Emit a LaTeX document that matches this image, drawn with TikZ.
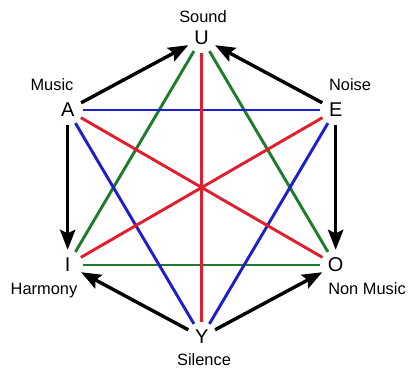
\documentclass[tikz,border=0pt]{standalone}
\usepackage{fontspec}
\setmainfont{Liberation Sans}
\usetikzlibrary{arrows.meta}
\definecolor{chordred}{RGB}{225,30,45}
\definecolor{chordblue}{RGB}{30,30,205}
\definecolor{chordgreen}{RGB}{30,125,45}

\begin{document}
\begin{tikzpicture}[
    vowel/.style={circle, inner sep=0pt, minimum size=0.9cm, font=\fontsize{17}{19}\selectfont},
    caption/.style={anchor=base, font=\fontsize{14}{16}\selectfont},
    chord/.style={line width=2.5pt},
    flow/.style={line width=2.9pt, -{Stealth[length=17pt, width=13pt, inset=3pt]}}
  ]
        \useasboundingbox (0,0) rectangle (12.3, 11.1);
        % the six vowels
        \node[vowel] (U) at (6.05, 9.96) {U};
        \node[vowel] (A) at (2.03, 7.80) {A};
        \node[vowel] (E) at (10.07, 7.80) {E};
        \node[vowel] (I) at (2.03, 3.15) {I};
        \node[vowel] (O) at (10.07, 3.15) {O};
        \node[vowel] (Y) at (6.05, 0.99) {Y};
        % their meanings
        \node[caption] (sound) at (6.09, 10.44) {Sound};
        \node[caption] (music) at (1.56, 8.40) {Music};
        \node[caption] (noise) at (10.50, 8.40) {Noise};
        \node[caption] (harmony) at (1.32, 2.28) {Harmony};
        \node[caption] (nonmusic) at (11.01, 2.28) {Non Music};
        \node[caption] (silence) at (6.12, 0.15) {Silence};
        % the star inside
        \draw[chord, chordgreen] (U) -- (I);
        \draw[chord, chordgreen] (U) -- (O);
        \draw[chord, chordgreen] (I) -- (O);
        \draw[chord, chordblue] (A) -- (E);
        \draw[chord, chordblue] (A) -- (Y);
        \draw[chord, chordblue] (E) -- (Y);
        \draw[chord, chordred] (U) -- (Y);
        \draw[chord, chordred] (A) -- (O);
        \draw[chord, chordred] (E) -- (I);
        % the hexagon of arrows
        \draw[flow] (A) -- (U);
        \draw[flow] (E) -- (U);
        \draw[flow] (A) -- (I);
        \draw[flow] (E) -- (O);
        \draw[flow] (Y) -- (I);
        \draw[flow] (Y) -- (O);
    \end{tikzpicture}
\end{document}
